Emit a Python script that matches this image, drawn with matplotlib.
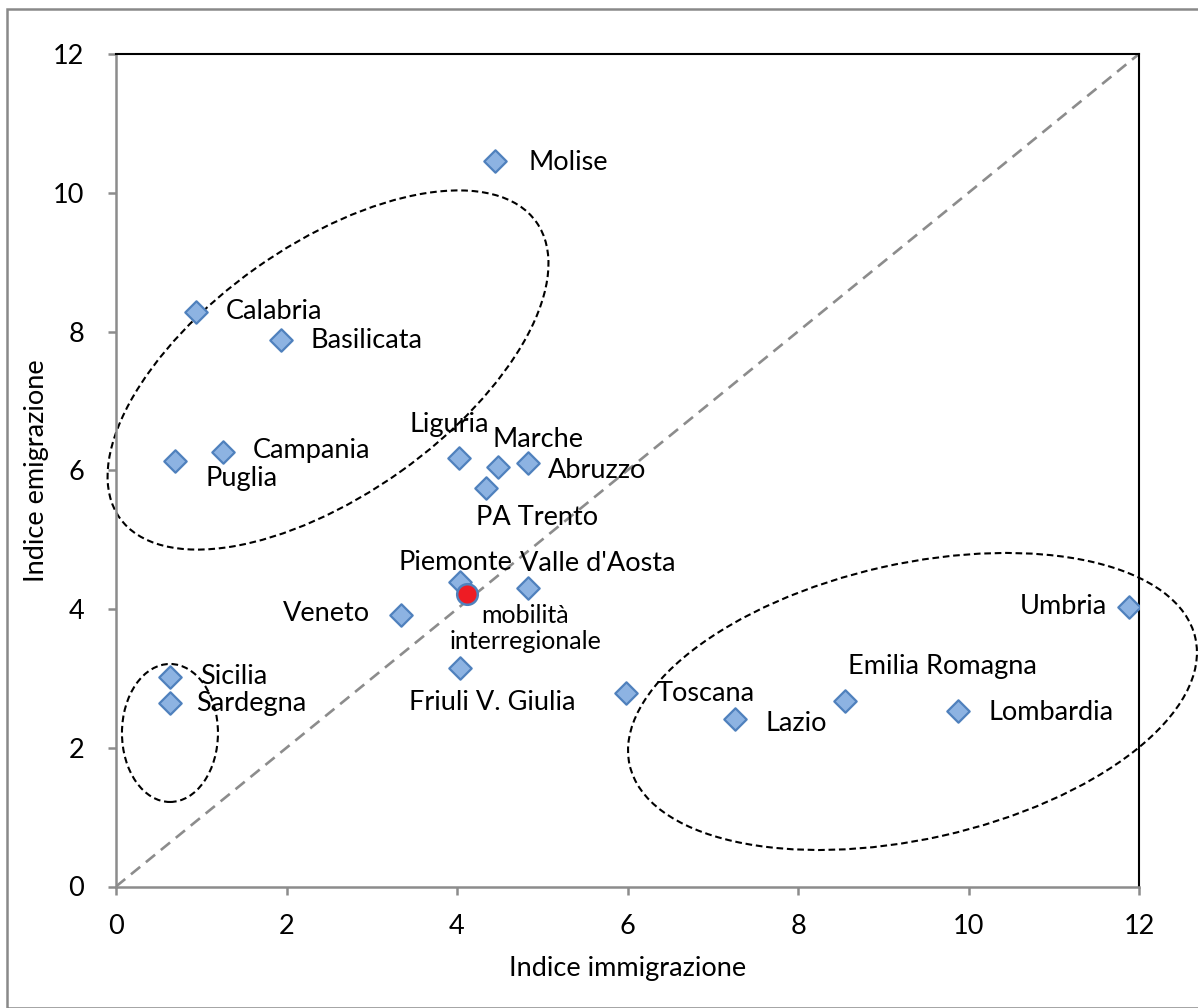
import numpy as np
import matplotlib
matplotlib.use("Agg")
import matplotlib.pyplot as plt
from matplotlib.patches import Ellipse, Rectangle
from matplotlib.transforms import ScaledTranslation

plt.rcParams['font.family'] = ['Lato', 'DejaVu Sans']

# data
regions = ["Molise", "Calabria", "Basilicata", "Campania", "Puglia", "Liguria",
           "Marche", "Abruzzo", "PA Trento", "Piemonte", "Valle d'Aosta", "Veneto",
           "Friuli V. Giulia", "Sicilia", "Sardegna", "Toscana", "Lazio",
           "Emilia Romagna", "Lombardia", "Umbria"]
imm = [4.45, 0.94, 1.94, 1.25, 0.69, 4.02, 4.48, 4.83, 4.34, 4.03, 4.83, 3.34,
       4.03, 0.63, 0.63, 5.98, 7.26, 8.55, 9.88, 11.88]
emi = [10.46, 8.28, 7.88, 6.27, 6.13, 6.18, 6.05, 6.10, 5.75, 4.39, 4.30, 3.91,
       3.15, 3.02, 2.64, 2.79, 2.41, 2.67, 2.53, 4.03]
avg_label = "mobilità\ninterregionale"
avg_imm = 4.12
avg_emi = 4.21

# label placement (pixel offsets, alignment)
lab_pos = {
    "Molise": (33, -2, 'left'), "Calabria": (30, 1, 'left'),
    "Basilicata": (29, -1, 'left'), "Campania": (30, 1, 'left'),
    "Puglia": (31, -17, 'left'), "Liguria": (-9, 33, 'center'),
    "Marche": (40, 27, 'center'), "Abruzzo": (20, -7, 'left'),
    "PA Trento": (51, -30, 'center'), "Piemonte": (-4, 19, 'center'),
    "Valle d'Aosta": (70, 25, 'center'), "Veneto": (-31, 2, 'right'),
    "Friuli V. Giulia": (33, -35, 'center'), "Sicilia": (30, 0, 'left'),
    "Sardegna": (26, 0, 'left'), "Toscana": (31, -1, 'left'),
    "Lazio": (31, -4, 'left'), "Emilia Romagna": (98, 35, 'center'),
    "Lombardia": (30, -2, 'left'), "Umbria": (-22, 0, 'right'),
}

W, H = 1198, 1008
fig = plt.figure(figsize=(W / 100, H / 100), dpi=100)
ax = fig.add_axes([116 / W, (H - 886.5) / H, 1023 / W, 832.5 / H])

# outer frame
fig.patches.append(Rectangle((6.5 / W, 0), 1.2, 1 - 9.3 / H, transform=fig.transFigure,
                             fill=False, edgecolor='#898989', lw=1.8))

ax.plot([0, 12], [0, 12], color='#8c8c8c', lw=1.9, ls=(0, (4.5, 2.8)), zorder=1)

ax.scatter(imm, emi, marker='D', s=130, facecolor='#8db3e2', edgecolor='#4f81bd',
           linewidths=1.6, zorder=3)
ax.scatter([avg_imm], [avg_emi], marker='o', s=220, facecolor='#ee1c24',
           edgecolor='#4f81bd', linewidths=1.8, zorder=4)

for name, xv, yv in zip(regions, imm, emi):
    dx, dy, ha = lab_pos[name]
    ax.annotate(name, (xv, yv), xytext=(dx, dy), textcoords='offset pixels',
                ha=ha, va='center', fontsize=19.5, color='black')
ax.annotate(avg_label, (avg_imm, avg_emi), xytext=(58, -34), textcoords='offset pixels',
            ha='center', va='center', fontsize=18, linespacing=1.2)

# group ellipses (centre in data, axes in pixels, angle deg)
groups = [(2.487, 7.445, 255.5, 124.8, 35.4),
          (0.633, 2.213, 48, 69, 0),
          (9.343, 2.667, 289.9, 137.6, 12.65)]
for cx, cy, a, b, ang in groups:
    tr = fig.dpi_scale_trans + ScaledTranslation(cx, cy, ax.transData)
    e = Ellipse((0, 0), 2 * a / 100, 2 * b / 100, angle=ang, transform=tr,
                fill=False, edgecolor='black', lw=1.5, ls=(0, (3.2, 1.8)),
                clip_on=False, zorder=2)
    ax.add_artist(e)

ax.set_xlim(0, 12)
ax.set_ylim(0, 12)
ax.set_xticks(range(0, 13, 2))
ax.set_yticks(range(0, 13, 2))
ax.tick_params(direction='out', length=6, width=1.8, color='#8c8c8c',
               labelsize=19.5, labelcolor='black')
ax.tick_params(axis='x', pad=14)
ax.tick_params(axis='y', pad=17)
for s in ['left', 'bottom']:
    ax.spines[s].set_color('#8c8c8c')
    ax.spines[s].set_linewidth(1.8)
for s in ['top', 'right']:
    ax.spines[s].set_color('black')
    ax.spines[s].set_linewidth(1.5)

ax.set_xlabel("Indice immigrazione", fontsize=19.5, labelpad=12)
ax.set_ylabel("Indice emigrazione", fontsize=19.5, labelpad=3)

fig.savefig("out.png", dpi=100)
